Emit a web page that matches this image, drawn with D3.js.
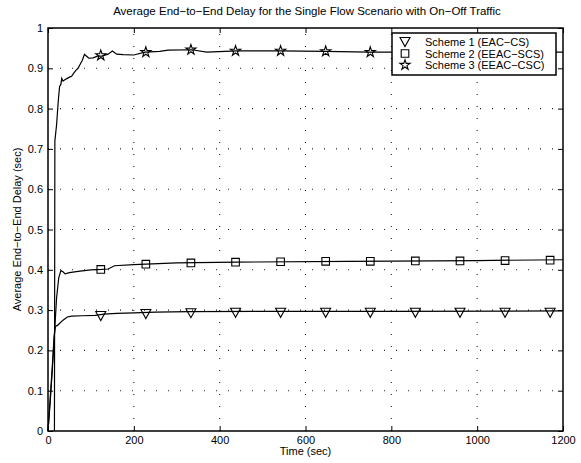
<html>
<head><script src="https://d3js.org/d3.v7.min.js"></script>
<style>
  body { margin: 0; background: white; }
  text { font-family: "Liberation Sans", Arial, sans-serif; }
</style>
</head>
<body>
<svg id="chart" width="581" height="463"></svg>
<script>
// data
const xTicks = [0, 200, 400, 600, 800, 1000, 1200]
const yTicks = [0, 0.1, 0.2, 0.3, 0.4, 0.5, 0.6, 0.7, 0.8, 0.9, 1]

const s1Time = [0, 5, 10, 14, 16, 18, 22, 28, 35, 45, 55, 80, 110, 130, 160, 200, 250, 330, 500, 800, 1200]
const s1Delay = [0, 0.08, 0.16, 0.23, 0.25, 0.26, 0.262, 0.268, 0.275, 0.283, 0.285, 0.286, 0.287, 0.29, 0.292, 0.293, 0.295, 0.296, 0.297, 0.297, 0.298]
const s2Time = [0, 5, 10, 15, 20, 25, 30, 35, 40, 50, 70, 100, 125, 140, 155, 200, 300, 440, 700, 1000, 1200]
const s2Delay = [0, 0.07, 0.15, 0.24, 0.33, 0.38, 0.398, 0.395, 0.39, 0.393, 0.396, 0.4, 0.401, 0.402, 0.41, 0.413, 0.417, 0.419, 0.421, 0.423, 0.425]
const s3Time = [15, 16, 20, 24, 27, 30, 32, 35, 40, 45, 50, 55, 60, 65, 70, 75, 80, 85, 90, 95, 105, 115, 125, 140, 150, 160, 175, 200, 226, 260, 280, 335, 370, 440, 540, 645, 750, 900, 1050, 1200]
const s3Delay = [0, 0.72, 0.76, 0.82, 0.855, 0.86, 0.875, 0.868, 0.872, 0.875, 0.878, 0.88, 0.888, 0.895, 0.9, 0.91, 0.92, 0.935, 0.93, 0.925, 0.926, 0.93, 0.93, 0.935, 0.943, 0.935, 0.934, 0.933, 0.94, 0.942, 0.945, 0.946, 0.94, 0.943, 0.943, 0.942, 0.94, 0.94, 0.94, 0.94]

const markTime = [123, 228, 333, 437, 542, 647, 751, 856, 960, 1065, 1170]
const s1Marks = [0.289, 0.294, 0.296, 0.297, 0.297, 0.297, 0.297, 0.297, 0.297, 0.297, 0.297]
const s2Marks = [0.401, 0.414, 0.417, 0.419, 0.42, 0.421, 0.421, 0.422, 0.422, 0.423, 0.424]
const s3Marks = [0.932, 0.94, 0.946, 0.943, 0.943, 0.942, 0.94, 0.94, 0.94, 0.94, 0.94]

const legendNames = ["Scheme 1 (EAC\u2212CS)", "Scheme 2 (EEAC\u2212SCS)", "Scheme 3 (EEAC\u2212CSC)"]

const svg = d3.select("svg#chart")
const margin = {top: 28, right: 18, bottom: 32, left: 48}
const width = +svg.attr("width")
const height = +svg.attr("height")
const x0 = margin.left, x1 = width - margin.right
const y0 = height - margin.bottom, y1 = margin.top

let xScale = d3.scaleLinear().domain([0, 1200]).range([x0, x1])
let yScale = d3.scaleLinear().domain([0, 1]).range([y0, y1])

// grid
svg.append("g").selectAll("line").data(xTicks.slice(1, -1)).join("line")
    .attr("x1", d => xScale(d)).attr("x2", d => xScale(d))
    .attr("y1", y0).attr("y2", y1)
    .attr("stroke", "#222").attr("stroke-width", 1.1).attr("stroke-dasharray", "1,11")
svg.append("g").selectAll("line").data(yTicks.slice(1, -1)).join("line")
    .attr("x1", x0).attr("x2", x1)
    .attr("y1", d => yScale(d)).attr("y2", d => yScale(d))
    .attr("stroke", "#222").attr("stroke-width", 1.1).attr("stroke-dasharray", "1,11")

// axes (ticks inward on all sides)
const fmt = d3.format("")
svg.append("g").attr("transform", `translate(0,${y0})`)
    .call(d3.axisBottom(xScale).tickValues(xTicks).tickSizeInner(-5).tickSizeOuter(0).tickPadding(5).tickFormat(fmt))
svg.append("g").attr("transform", `translate(0,${y1})`)
    .call(d3.axisTop(xScale).tickValues(xTicks).tickSizeInner(-5).tickSizeOuter(0).tickFormat(""))
svg.append("g").attr("transform", `translate(${x0},0)`)
    .call(d3.axisLeft(yScale).tickValues(yTicks).tickSizeInner(-5).tickSizeOuter(0).tickPadding(5).tickFormat(fmt))
svg.append("g").attr("transform", `translate(${x1},0)`)
    .call(d3.axisRight(yScale).tickValues(yTicks).tickSizeInner(-5).tickSizeOuter(0).tickFormat(""))
svg.selectAll(".domain").remove()
svg.selectAll(".tick line").attr("stroke", "#000")
svg.selectAll(".tick text").attr("font-size", 11).attr("fill", "#000")
    .attr("font-family", "'Liberation Sans', Arial, sans-serif")

// lines
const line = d3.line().x(d => xScale(d[0])).y(d => yScale(d[1]))
const series = [
    {t: s1Time, v: s1Delay, m: s1Marks, shape: "tri"},
    {t: s2Time, v: s2Delay, m: s2Marks, shape: "sq"},
    {t: s3Time, v: s3Delay, m: s3Marks, shape: "star"}
]
function markerPath(shape) {
    if (shape == "tri") return "M-5,-3L5,-3L0,6Z"
    if (shape == "sq") return "M-3.8,-3.8H3.8V3.8H-3.8Z"
    return d3.symbol(d3.symbolStar, 32)()
}
series.forEach(s => {
    svg.append("path").datum(d3.zip(s.t, s.v))
        .attr("d", line).attr("fill", "none").attr("stroke", "#000").attr("stroke-width", 1.2)
    svg.append("g").selectAll("path").data(d3.zip(markTime, s.m)).join("path")
        .attr("d", markerPath(s.shape))
        .attr("transform", d => `translate(${xScale(d[0])},${yScale(d[1])})`)
        .attr("fill", "none").attr("stroke", "#000").attr("stroke-width", 1.1)
})

// frame
svg.append("rect").attr("x", x0).attr("y", y1).attr("width", x1 - x0).attr("height", y0 - y1)
    .attr("fill", "none").attr("stroke", "#000").attr("stroke-width", 1.5)

// legend
const lg = svg.append("g").attr("transform", "translate(392,33)")
lg.append("rect").attr("width", 164).attr("height", 42)
    .attr("fill", "white").attr("stroke", "#000").attr("stroke-width", 1.5)
legendNames.forEach((name, i) => {
    const y = 9 + i * 11.5
    lg.append("path").attr("d", markerPath(series[i].shape))
        .attr("transform", `translate(13,${i == 0 ? y - 1.5 : y})`)
        .attr("fill", "none").attr("stroke", "#000").attr("stroke-width", 1.1)
    lg.append("text").attr("x", 33).attr("y", y + 4).attr("font-size", 11).text(name)
})

// labels
svg.append("text").attr("x", 307).attr("y", 15).attr("text-anchor", "middle").attr("font-size", 11.5)
    .text("Average End\u2212to\u2212End Delay for the Single Flow Scenario with On\u2212Off Traffic")
svg.append("text").attr("x", (x0 + x1) / 2).attr("y", 455).attr("text-anchor", "middle").attr("font-size", 11)
    .text("Time (sec)")
svg.append("text").attr("transform", `translate(21,${(y0 + y1) / 2}) rotate(-90)`)
    .attr("text-anchor", "middle").attr("font-size", 11)
    .text("Average End\u2212to\u2212End Delay (sec)")
</script>
</body>
</html>
